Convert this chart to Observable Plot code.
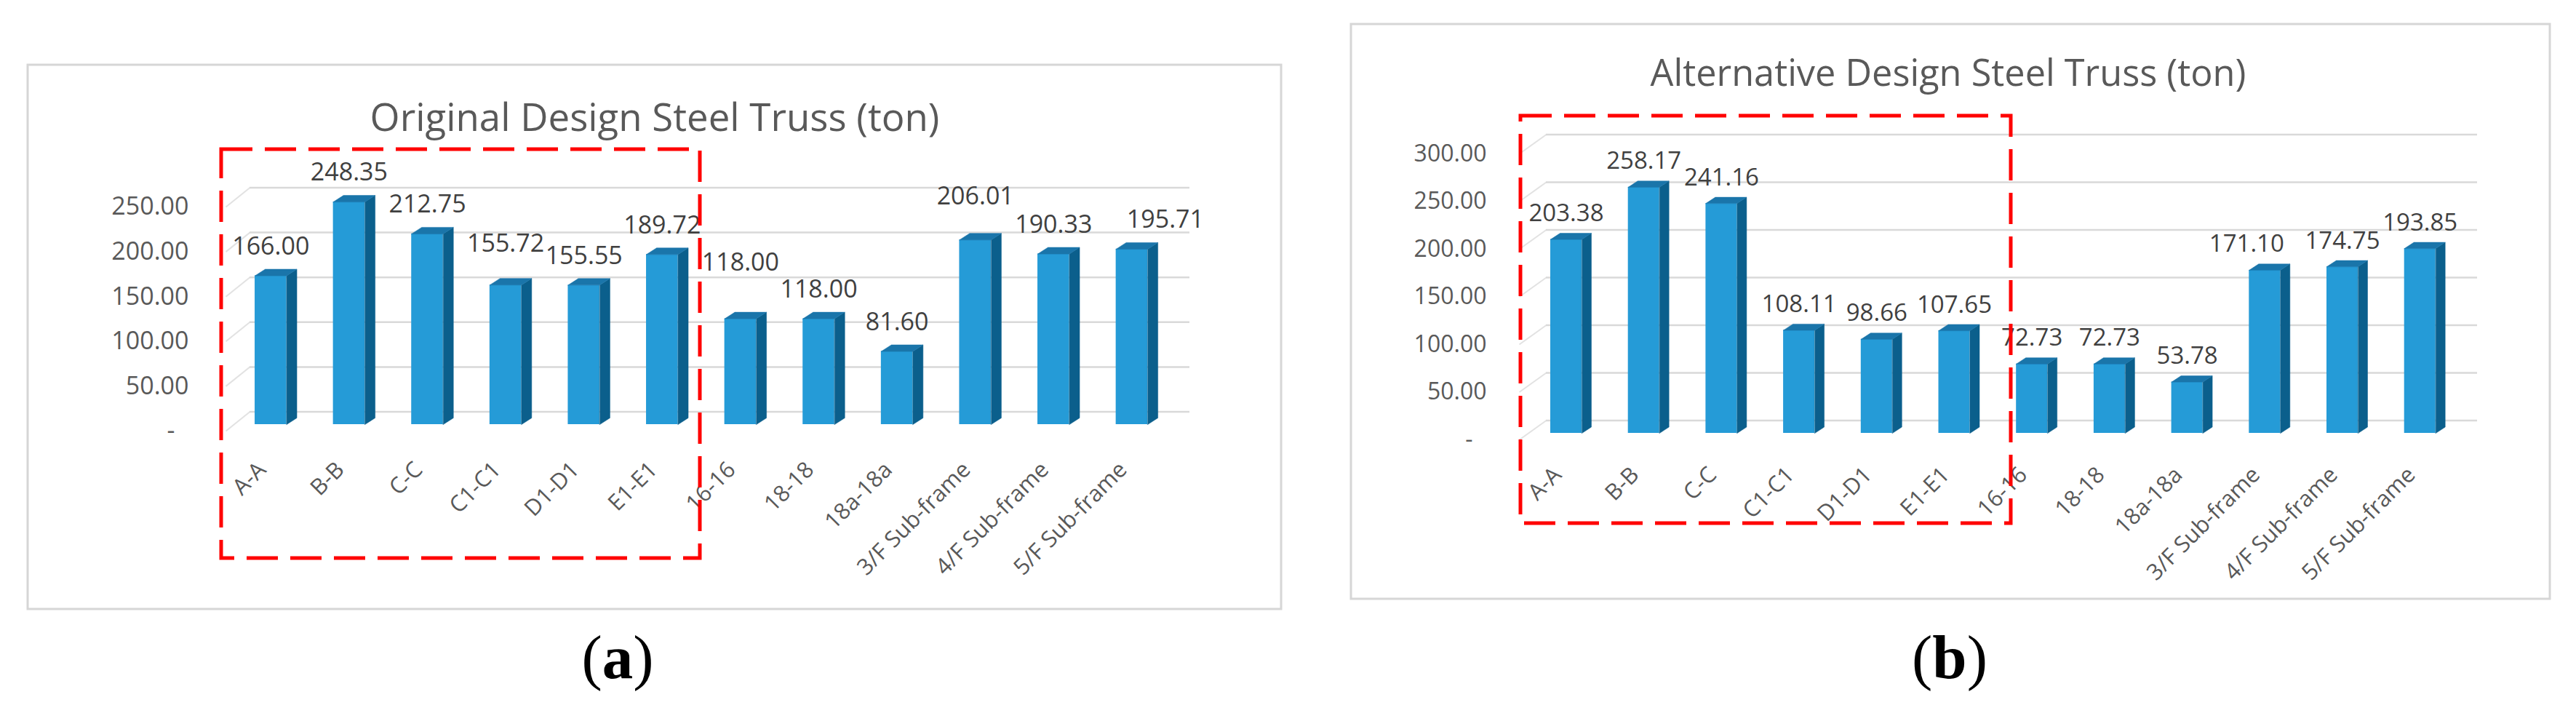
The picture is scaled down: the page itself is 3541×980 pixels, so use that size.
<!DOCTYPE html>
<html>
<head>
<meta charset="utf-8">
<script src="https://cdn.jsdelivr.net/npm/d3@7"></script>
<script src="https://cdn.jsdelivr.net/npm/@observablehq/plot@0.6"></script>
<style>
  body { margin: 0; background: #fff; }
  #page { position: relative; width: 3541px; height: 980px; overflow: hidden; background: #fff; }
  .layer { position: absolute; left: 0; top: 0; }
</style>
</head>
<body>
<div id="page"></div>
<script>
// ---------------- data ----------------
const categories = ["A-A", "B-B", "C-C", "C1-C1", "D1-D1", "E1-E1", "16-16", "18-18", "18a-18a",
  "3/F Sub-frame", "4/F Sub-frame", "5/F Sub-frame"];
const originalTons = [166.00, 248.35, 212.75, 155.72, 155.55, 189.72, 118.00, 118.00, 81.60, 206.01, 190.33, 195.71];
const alternativeTons = [203.38, 258.17, 241.16, 108.11, 98.66, 107.65, 72.73, 72.73, 53.78, 171.10, 174.75, 193.85];
const originalTicks = [0, 50, 100, 150, 200, 250];
const alternativeTicks = [0, 50, 100, 150, 200, 250, 300];
const originalTitle = "Original Design Steel Truss (ton)";
const alternativeTitle = "Alternative Design Steel Truss (ton)";
// manual nudges of the value labels (px), as placed in the source chart
const originalLabelShiftX = [0, 0, 0, 0, 0, 0, 0, 0, 0, 0, 0, 46];
const originalLabelShiftY = [0, 0, 0, -17, 0, 0, -37, 0, 0, -20, 0, 0];
const alternativeLabelShiftX = [0, 0, 0, 0, 0, 0, 0, 0, 0, -25, 0, 0];
const alternativeLabelShiftY = [0, 0, 0, 0, 0, 0, 0, 0, 0, 0, 0, 0];

// ---------------- layout ----------------
const FRONT = "#259bd7", SIDE = "#0b5f8c", TOP = "#1a75aa";
const GRID = "#d9d9d9", TXT = "#595959", VAL = "#404040";
const FONT = "'Open Sans', 'Noto Sans', sans-serif";

const panels = [
  { values: originalTons, ticks: originalTicks, sx: originalLabelShiftX, sy: originalLabelShiftY,
    left: 0, width: 1800, c0: 371.8, pitch: 107.6, base: 583, k: 1.232, barW: 43.5, depthX: 14, depthY: 9,
    wallL: 343, wallR: 1635, wallUp: 17.5, frontL: 310, frontDown: 9, tickRight: 259, dashDx: -19,
    xLabDx: -12, xLabDy: 57, valDy: -40, valFont: 34, tickFont: 34, xFont: 31,
    frame: [38, 89, 1761, 837], title: originalTitle, titleC: [900, 161], titleW: 783,
    cap: "a", capX: 849, red: [304, 205, 962, 767] },
  { values: alternativeTons, ticks: alternativeTicks, sx: alternativeLabelShiftX, sy: alternativeLabelShiftY,
    left: 1800, width: 1741, c0: 352.5, pitch: 106.7, base: 595, k: 1.31, barW: 43, depthX: 13, depthY: 8.5,
    wallL: 325, wallR: 1605, wallUp: 17.5, frontL: 288, frontDown: 9, tickRight: 243, dashDx: -19,
    xLabDx: -12, xLabDy: 52, valDy: -35.5, valFont: 33, tickFont: 32, xFont: 31,
    frame: [1857, 33, 3505, 823], title: alternativeTitle, titleC: [2678, 100], titleW: 819,
    cap: "b", capX: 2680, red: [2090, 159, 2764, 719] }
];

const page = document.getElementById("page");

// background layer: frames, titles, captions
const bg = d3.select(page).append("svg").attr("class", "layer")
  .attr("width", 3541).attr("height", 980);

for (const p of panels) {
  const [x1, y1, x2, y2] = p.frame;
  bg.append("rect").attr("x", x1).attr("y", y1).attr("width", x2 - x1).attr("height", y2 - y1)
    .attr("fill", "#fff").attr("stroke", "#d6d6d6").attr("stroke-width", 3);
  const t = bg.append("text").text(p.title)
    .attr("x", p.titleC[0]).attr("text-anchor", "middle")
    .attr("font-family", FONT).attr("font-size", 50).attr("fill", TXT);
  const len = t.node().getComputedTextLength() || 780;
  const fs = 50 * p.titleW / len;
  t.attr("font-size", fs).attr("y", p.titleC[1] + 0.357 * fs);
  const c = bg.append("text").attr("x", p.capX).attr("y", 932).attr("text-anchor", "middle")
    .attr("font-family", "'Liberation Serif', 'Times New Roman', serif").attr("font-size", 85).attr("fill", "#000");
  c.append("tspan").text("(");
  c.append("tspan").attr("font-weight", "bold").text(p.cap);
  c.append("tspan").text(")");
}

// charts
for (const p of panels) {
  const n = categories.length;
  const yTop = p.ticks[p.ticks.length - 1];
  const bars = categories.map((name, i) => ({ i, name, v: p.values[i] }));
  const hw = p.barW / 2 / p.pitch, ddx = p.depthX / p.pitch, ddy = p.depthY / p.k;
  const toX = px => (px - p.c0) / p.pitch;
  const wallLx = toX(p.wallL), wallRx = toX(p.wallR), frontLx = toX(p.frontL);
  const side = bars.flatMap(b => [[b.i + hw, 0], [b.i + hw + ddx, ddy], [b.i + hw + ddx, b.v + ddy], [b.i + hw, b.v]]
    .map(([x, y]) => ({ id: b.i, x, y })));
  const topF = bars.flatMap(b => [[b.i - hw, b.v], [b.i - hw + ddx, b.v + ddy], [b.i + hw + ddx, b.v + ddy], [b.i + hw, b.v]]
    .map(([x, y]) => ({ id: b.i, x, y })));

  const chart = Plot.plot({
    width: p.width, height: 980,
    marginLeft: p.tickRight, marginRight: 0, marginTop: 0, marginBottom: 0,
    x: { domain: [0, n - 1], range: [p.c0, p.c0 + (n - 1) * p.pitch], axis: null },
    y: { domain: [0, yTop], range: [p.base, p.base - yTop * p.k], axis: null },
    style: { background: "transparent", fontFamily: FONT, overflow: "visible" },
    marks: [
      Plot.link(p.ticks, { x1: () => wallLx, y1: d => d + p.wallUp / p.k, x2: () => frontLx, y2: d => d - p.frontDown / p.k,
        stroke: "#e2e2e2", strokeWidth: 2 }),
      Plot.ruleY(p.ticks, { y: d => d + p.wallUp / p.k, x1: () => wallLx, x2: () => wallRx, stroke: GRID, strokeWidth: 2.5 }),
      Plot.rect(bars, { x1: d => d.i - hw, x2: d => d.i + hw, y1: () => 0, y2: "v", fill: FRONT }),
      Plot.line(side, { x: "x", y: "y", z: "id", fill: SIDE, stroke: SIDE, strokeWidth: 0.5, curve: "linear-closed" }),
      Plot.line(topF, { x: "x", y: "y", z: "id", fill: TOP, stroke: TOP, strokeWidth: 0.5, curve: "linear-closed" }),
      Plot.text(bars, {
        x: d => d.i + p.sx[d.i] / p.pitch,
        y: d => d.v + (-p.valDy - p.sy[d.i]) / p.k,
        text: d => d.v.toFixed(2), lineAnchor: "middle", textAnchor: "middle",
        fontSize: p.valFont, fill: VAL, fontFamily: FONT }),
      Plot.text(p.ticks.filter(t => t !== 0), { y: d => d, frameAnchor: "left", textAnchor: "end", lineAnchor: "middle",
        dy: p.frontDown, text: d => d.toFixed(2), fontSize: p.tickFont, fill: TXT, fontFamily: FONT }),
      Plot.text(p.ticks.filter(t => t === 0), { y: d => d, frameAnchor: "left", textAnchor: "end", lineAnchor: "middle",
        dx: p.dashDx, dy: p.frontDown, text: () => "-", fontSize: p.tickFont, fill: TXT, fontFamily: FONT }),
      Plot.text(bars, { x: "i", y: () => 0, text: "name", rotate: -45, textAnchor: "end", lineAnchor: "middle",
        dx: p.xLabDx, dy: p.xLabDy, fontSize: p.xFont, fill: TXT, fontFamily: FONT })
    ]
  });
  const wrap = document.createElement("div");
  wrap.className = "layer";
  wrap.style.left = p.left + "px";
  wrap.appendChild(chart);
  page.appendChild(wrap);
}

// overlay: red dashed highlight boxes
const ov = d3.select(page).append("svg").attr("class", "layer")
  .attr("width", 3541).attr("height", 980).style("pointer-events", "none");
for (const p of panels) {
  const [x1, y1, x2, y2] = p.red;
  ov.append("rect").attr("x", x1).attr("y", y1).attr("width", x2 - x1).attr("height", y2 - y1)
    .attr("fill", "none").attr("stroke", "#ff0000").attr("stroke-width", 5)
    .attr("stroke-dasharray", "43 17");
}
</script>
</body>
</html>
